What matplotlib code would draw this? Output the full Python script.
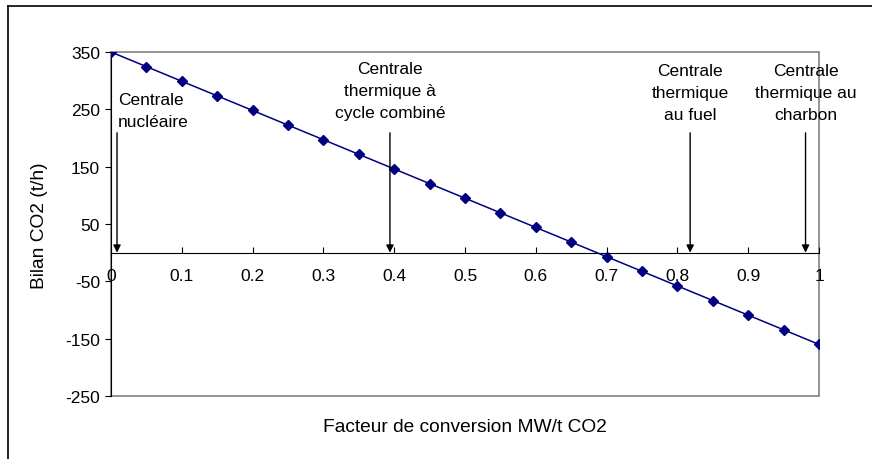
import matplotlib.pyplot as plt
from matplotlib.lines import Line2D
from matplotlib.patches import Rectangle

plt.rcParams['font.family'] = ['Liberation Sans', 'DejaVu Sans']
plt.rcParams['axes.unicode_minus'] = False

# facteur de conversion (MW/t CO2) et bilan CO2 (t/h)
facteur = [0, 0.05, 0.1, 0.15, 0.2, 0.25, 0.3, 0.35, 0.4, 0.45, 0.5,
           0.55, 0.6, 0.65, 0.7, 0.75, 0.8, 0.85, 0.9, 0.95, 1]
bilan = [350, 324.5, 299, 273.5, 248, 222.5, 197, 171.5, 146, 120.5, 95,
         69.5, 44, 18.5, -7, -32.5, -58, -83.5, -109, -134.5, -160]

centrales = ['Centrale\nnucléaire', 'Centrale\nthermique à\ncycle combiné',
             'Centrale\nthermique\nau fuel', 'Centrale\nthermique au\ncharbon']
centrales_x = [0.0085, 0.394, 0.818, 0.981]

xticks = [0, 0.1, 0.2, 0.3, 0.4, 0.5, 0.6, 0.7, 0.8, 0.9, 1]
xticklabels = ['0', '0.1', '0.2', '0.3', '0.4', '0.5', '0.6', '0.7', '0.8', '0.9', '1']
yticks = [-250, -150, -50, 50, 150, 250, 350]

fs = 12.5
fs_title = 13.8
fig = plt.figure(figsize=(8.72, 4.6), dpi=100)
ax = fig.add_axes([111 / 872, 1 - 397 / 460, 708 / 872, 344 / 460])

# plot area border (grey)
ax.add_patch(Rectangle((0, 0), 1, 1, transform=ax.transAxes, fill=False,
                       edgecolor='#808080', lw=1.2, zorder=0, clip_on=False))

ax.plot(facteur, bilan, color='#000080', lw=1.1, marker='D', markersize=5.5,
        markerfacecolor='#000080', markeredgecolor='#000080', zorder=3)

ax.set_xlim(0, 1)
ax.set_ylim(-250, 350)

ax.spines['top'].set_visible(False)
ax.spines['right'].set_visible(False)
ax.spines['bottom'].set_position(('data', 0))
ax.spines['bottom'].set_color('black')
ax.spines['left'].set_color('black')

ax.set_xticks(xticks)
ax.set_xticklabels(xticklabels)
ax.set_yticks(yticks)
ax.tick_params(axis='x', direction='in', length=4, pad=11, labelsize=fs)
ax.tick_params(axis='y', direction='out', length=4, pad=4, labelsize=fs)

# annotations
text_tops = [281, 334.5, 331, 331]
for i, (lab, xv) in enumerate(zip(centrales, centrales_x)):
    ax.annotate('', xy=(xv, 0), xytext=(xv, 209),
                arrowprops=dict(arrowstyle='-|>', color='black', lw=1,
                                mutation_scale=11, shrinkA=0, shrinkB=0))
    if i == 0:
        ax.text(0.01, text_tops[i], lab, ha='left', va='top', fontsize=fs,
                linespacing=1.6)
    else:
        ax.text(xv, text_tops[i], lab, ha='center', va='top', fontsize=fs,
                linespacing=1.6, multialignment='center')

fig.text(465 / 872, 1 - 428 / 460, 'Facteur de conversion MW/t CO2',
         ha='center', va='center', fontsize=fs_title)
fig.text(40 / 872, 1 - 226 / 460, 'Bilan CO2 (t/h)', rotation=90,
         ha='center', va='center', fontsize=fs_title)

# outer chart frame (only top and left visible)
fig.add_artist(Line2D([8 / 872, 1.0], [1 - 7 / 460, 1 - 7 / 460],
                      transform=fig.transFigure, color='black', lw=1.2))
fig.add_artist(Line2D([8 / 872, 8 / 872], [0, 1 - 7 / 460],
                      transform=fig.transFigure, color='black', lw=1.2))

fig.savefig('out.png', dpi=100)
